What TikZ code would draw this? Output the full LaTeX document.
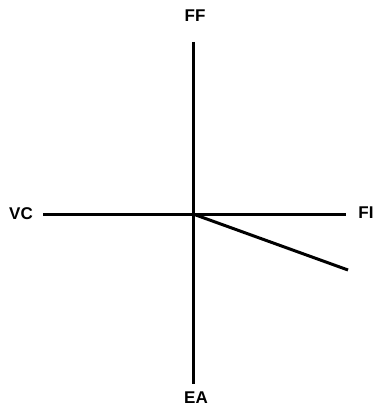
\documentclass[tikz,border=0pt]{standalone}
\usepackage{fontspec}
\setmainfont{Liberation Sans}
\begin{document}
\begin{tikzpicture}[x=1pt,y=-1pt,
  axis/.style={line width=3pt,line cap=butt},
  lbl/.style={font=\fontsize{17}{19}\selectfont\bfseries,inner sep=0pt}]
\useasboundingbox[fill=white] (0,0) rectangle (376,412);
\coordinate (O) at (193,214);
\coordinate (T) at (193,42);
\coordinate (B) at (193,384);
\coordinate (L) at (43,214);
\coordinate (R) at (346,214);
\coordinate (D) at (348,270);
\node[lbl] (ff) at (195,16) {FF};
\node[lbl] (vc) at (21,214) {VC};
\node[lbl] (fi) at (366,213) {FI};
\node[lbl] (ea) at (196,398) {EA};
\draw[axis] (T) -- (B);
\draw[axis] (L) -- (R);
\draw[axis] (O) -- (D);
\end{tikzpicture}
\end{document}
